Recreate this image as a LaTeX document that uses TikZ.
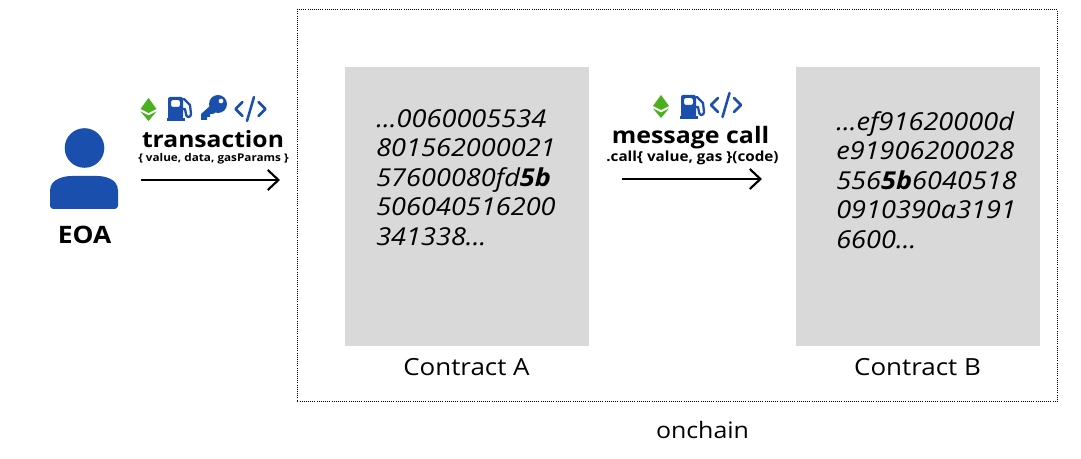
\documentclass[tikz,border=0pt]{standalone}
\usepackage{fontspec}
\setmainfont[FakeStretch=1.1]{Open Sans}
\usetikzlibrary{arrows.meta}
\definecolor{iconblue}{HTML}{1A4FAE}
\definecolor{ethgreen}{HTML}{4CAF1E}
\definecolor{boxgray}{HTML}{D9D9D9}
\tikzset{
  codebox/.style={fill=boxgray,minimum width=183pt,minimum height=209.25pt,inner sep=0,anchor=north west},
  codetext/.style={font=\fontsize{18.5}{22.1}\selectfont\itshape,align=left,anchor=north west,inner sep=0},
  caption/.style={font=\fontsize{17.7}{20}\selectfont,inner sep=0},
  bigbold/.style={font=\fontsize{17}{20}\selectfont\bfseries,inner sep=0},
  smallbold/.style={font=\fontsize{8}{10}\selectfont\bfseries,inner sep=0},
  flow/.style={line width=1.7pt,-{Straight Barb[length=8pt,width=15pt,line width=1.6pt]}},
  pics/eth/.style={code={
    \fill[ethgreen] (0,-10) -- (8,1) -- (0,5) -- (-8,1) -- cycle;
    \fill[ethgreen] (-8,3.5) -- (0,7.5) -- (8,3.5) -- (0,13) -- cycle;
  }},
  pics/pump/.style={code={
    \fill[iconblue,even odd rule,rounded corners=1.5]
      (-11,-11) rectangle (4,11)
      (-8,-8) rectangle (1,-1);
    \fill[iconblue] (-12.5,10) rectangle (5.5,13);
    \draw[iconblue,line width=1.7pt,line cap=round,line join=round]
      (5,-9) -- (11,-3) -- (12,6) .. controls (12,10) and (7,10) .. (7,6) -- (6,1) -- (4,1);
  }},
  pics/key/.style={code={
    \fill[iconblue,even odd rule] (5,-3) circle (9) (8,-6) circle (2.5);
    \fill[iconblue] (-3,-1) -- (3,5) -- (0,7) -- (-3,7) -- (-3,10) -- (-6,10) -- (-6,13) -- (-12,13) -- (-12,7) -- cycle;
  }},
  pics/codeicon/.style={code={
    \draw[iconblue,line width=1.9pt,line cap=round,line join=round]
      (-8,-7) -- (-15,0) -- (-8,7)
      (8,-7) -- (15,0) -- (8,7)
      (3.5,-12) -- (-3.5,12);
  }}
}
\begin{document}
\begin{tikzpicture}[x=0.75pt,y=-0.75pt]
\useasboundingbox (0,0) rectangle (1081,459);
\fill[white] (0,0) rectangle (1081,459);
% onchain frame
\node[draw=black,densely dotted,line width=0.6pt,minimum width=569.9pt,minimum height=294pt,inner sep=0,anchor=north west] (frame) at (297,9) {};
\node[font=\fontsize{17}{20}\selectfont,inner sep=0] (onchain) at (702.5,430) {onchain};
% EOA
\fill[iconblue] (84.5,148) circle (19.8);
\fill[iconblue,rounded corners=2.5] (50,209) -- (50,194) .. controls (50,178) and (66,176) .. (75,176) -- (94,176) .. controls (103,176) and (118,178) .. (118,194) -- (118,209) -- cycle;
\node[font=\fontsize{18}{20}\selectfont\bfseries,inner sep=0] (eoa) at (84.5,235) {EOA};
% transaction
\pic at (148.5,108) {eth};
\pic at (179,108) {pump};
\pic at (213,107) {key};
\pic at (250.5,109) {codeicon};
\node[bigbold,font=\fontsize{16.8}{20}\selectfont\bfseries] (txlabel) at (213,139) {transaction};
\node[smallbold] (txargs) at (213.5,159) {\{ value, data, gasParams \}};
\coordinate (txa) at (141,180);
\coordinate (txb) at (280,180);
\draw[flow] (txa) -- (txb);
% boxes
\node[codebox] (boxa) at (345,67) {};
\node[codebox] (boxb) at (796,67) {};
\node[codetext] (codea) at (376,109) {...0060005534\\801562000021\\57600080fd\textbf{5b}\\506040516200\\341338...};
\node[codetext] (codeb) at (836,111) {...ef91620000d\\e91906200028\\556\textbf{5b}6040518\\0910390a3191\\6600...};
\node[caption] (capa) at (466.5,367) {Contract A};
\node[caption] (capb) at (917.5,367) {Contract B};
% message call
\pic at (661,105) {eth};
\pic at (692,106) {pump};
\pic at (726,105) {codeicon};
\node[bigbold] (mclabel) at (690.5,138) {message call};
\node[smallbold,font=\fontsize{10.4}{12}\selectfont\bfseries] (mcargs) at (692.5,158) {.call\{ value, gas \}(code)};
\coordinate (mca) at (622,179);
\coordinate (mcb) at (762,179);
\draw[flow] (mca) -- (mcb);
\end{tikzpicture}
\end{document}
